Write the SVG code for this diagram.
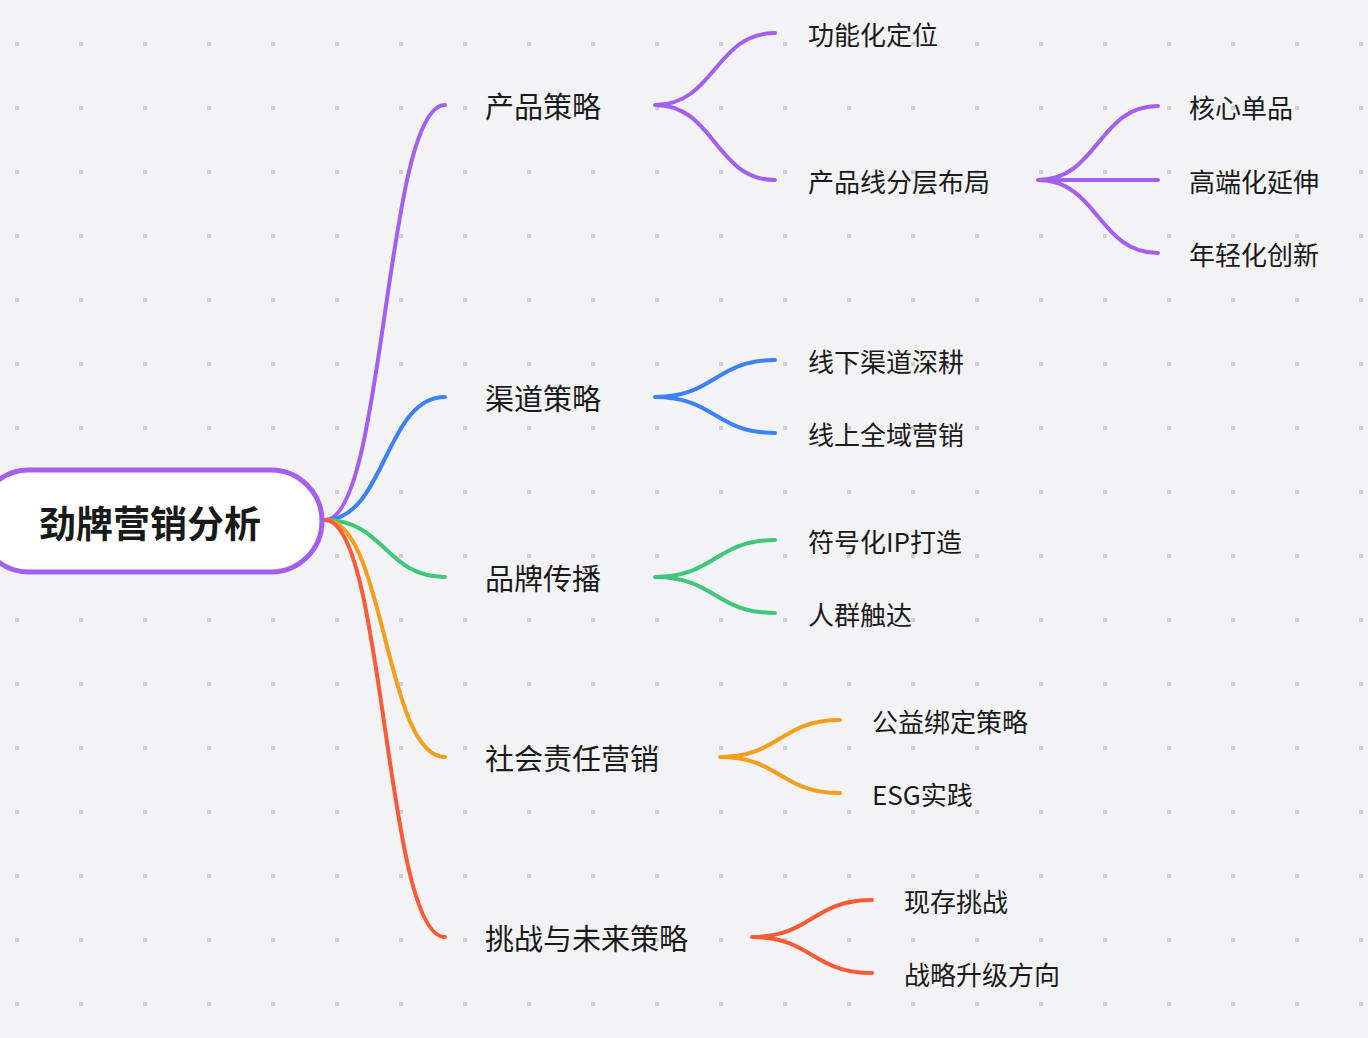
<svg xmlns="http://www.w3.org/2000/svg" width="1368" height="1038" viewBox="0 0 1368 1038">
<defs>
<pattern id="dots" x="15" y="42" width="64" height="64" patternUnits="userSpaceOnUse"><rect width="4" height="4" fill="#cfcfd3"/></pattern>
<style>
.c{fill:none;stroke-width:4;stroke-linecap:round}
.t{font-family:"Noto Sans CJK SC","Noto Sans",sans-serif;fill:#1a1a1a;dominant-baseline:central}
.b{font-size:29px}
.s{font-size:26px}
</style>
</defs>
<rect width="1368" height="1038" fill="#f3f3f5"/>
<rect width="1368" height="1038" fill="url(#dots)"/>
<g id="connectors">
<path class="c" stroke="#a35ff0" d="M325 520 C385 520 385 105 445 105"/>
<path class="c" stroke="#3d82f5" d="M325 520 C385 520 385 397 445 397"/>
<path class="c" stroke="#3ec77c" d="M325 520 C385 520 385 577 445 577"/>
<path class="c" stroke="#f49e1e" d="M325 520 C385 520 385 757 445 757"/>
<path class="c" stroke="#fb5a38" d="M325 520 C385 520 385 937 445 937"/>
<path class="c" stroke="#a35ff0" d="M655 105 C715 105 715 33 775 33 M655 105 C715 105 715 180 775 180"/>
<path class="c" stroke="#a35ff0" d="M1038 180 C1098 180 1098 106 1158 106 M1038 180 L1158 180 M1038 180 C1098 180 1098 253 1158 253"/>
<path class="c" stroke="#3d82f5" d="M655 397 C715 397 715 360 775 360 M655 397 C715 397 715 433 775 433"/>
<path class="c" stroke="#3ec77c" d="M655 577 C715 577 715 540 775 540 M655 577 C715 577 715 613 775 613"/>
<path class="c" stroke="#f49e1e" d="M720 757 C780 757 780 720 840 720 M720 757 C780 757 780 793 840 793"/>
<path class="c" stroke="#fb5a38" d="M752 937 C812 937 812 900 872 900 M752 937 C812 937 812 973 872 973"/>
</g>
<g id="root">
<rect x="-22" y="470" width="344" height="102" rx="51" fill="#fff" stroke="#a35ff0" stroke-width="5"/>
<text class="t" x="150" y="522" font-size="37" font-weight="bold" text-anchor="middle">劲牌营销分析</text>
</g>
<g id="n1"><text class="t b" x="485" y="105">产品策略</text></g>
<g id="n2"><text class="t b" x="485" y="397">渠道策略</text></g>
<g id="n3"><text class="t b" x="485" y="577">品牌传播</text></g>
<g id="n4"><text class="t b" x="485" y="757">社会责任营销</text></g>
<g id="n5"><text class="t b" x="485" y="937">挑战与未来策略</text></g>
<g id="n11"><text class="t s" x="808" y="33">功能化定位</text></g>
<g id="n12"><text class="t s" x="808" y="180">产品线分层布局</text></g>
<g id="n121"><text class="t s" x="1189" y="106">核心单品</text></g>
<g id="n122"><text class="t s" x="1189" y="180">高端化延伸</text></g>
<g id="n123"><text class="t s" x="1189" y="253">年轻化创新</text></g>
<g id="n21"><text class="t s" x="808" y="360">线下渠道深耕</text></g>
<g id="n22"><text class="t s" x="808" y="433">线上全域营销</text></g>
<g id="n31"><text class="t s" x="808" y="540">符号化IP打造</text></g>
<g id="n32"><text class="t s" x="808" y="613">人群触达</text></g>
<g id="n41"><text class="t s" x="872" y="720">公益绑定策略</text></g>
<g id="n42"><text class="t s" x="872" y="793">ESG实践</text></g>
<g id="n51"><text class="t s" x="904" y="900">现存挑战</text></g>
<g id="n52"><text class="t s" x="904" y="973">战略升级方向</text></g>
</svg>
